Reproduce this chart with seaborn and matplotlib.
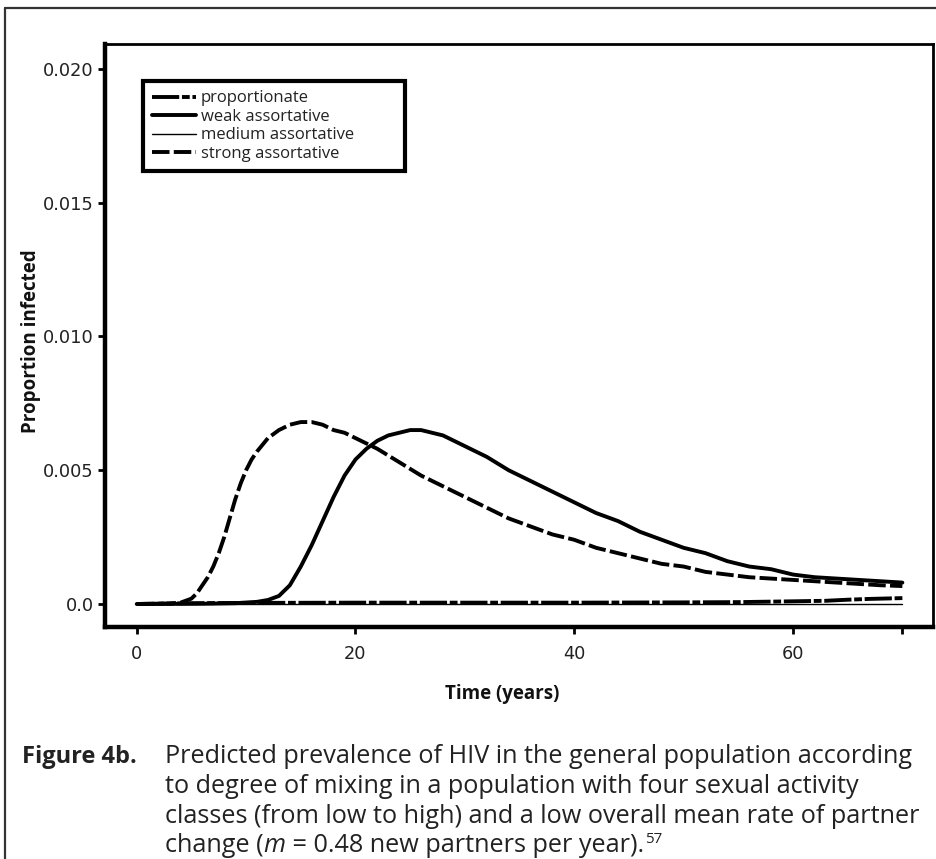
import matplotlib
matplotlib.use("Agg")
import matplotlib.pyplot as plt
from matplotlib.lines import Line2D
import pandas as pd
import seaborn as sns

# Predicted HIV prevalence (proportion infected) over time, by mixing pattern
years_strong = [0, 3, 4, 5, 5.5, 6, 6.5, 7, 7.5, 8, 8.5, 9, 9.5, 10, 10.5, 11, 12, 13,
                14, 15, 16, 17, 18, 19, 20, 22, 24, 26, 28, 30, 32, 34, 36, 38, 40,
                42, 44, 46, 48, 50, 52, 54, 56, 58, 60, 62, 64, 66, 68, 70]
prev_strong = [0.0, 0.00002, 0.00005, 0.0002, 0.0004, 0.0007, 0.0010, 0.0014, 0.0019,
               0.0025, 0.0032, 0.0039, 0.0045, 0.0050, 0.0054, 0.0057, 0.0062, 0.0065,
               0.0067, 0.0068, 0.0068, 0.0067, 0.0065, 0.0064, 0.0062, 0.0058, 0.0053,
               0.0048, 0.0044, 0.0040, 0.0036, 0.0032, 0.0029, 0.0026, 0.0024, 0.0021,
               0.0019, 0.0017, 0.0015, 0.0014, 0.0012, 0.0011, 0.0010, 0.00095, 0.00090,
               0.00085, 0.00080, 0.00075, 0.00070, 0.00067]

years_weak = [0, 6, 9, 11, 12, 13, 14, 15, 16, 17, 18, 19, 20, 21, 22, 23, 24, 25, 26,
              27, 28, 30, 32, 34, 36, 38, 40, 42, 44, 46, 48, 50, 52, 54, 56, 58, 60,
              62, 64, 66, 68, 70]
prev_weak = [0.0, 0.00001, 0.00003, 0.00008, 0.00015, 0.0003, 0.0007, 0.0014, 0.0022,
             0.0031, 0.0040, 0.0048, 0.0054, 0.0058, 0.0061, 0.0063, 0.0064, 0.0065,
             0.0065, 0.0064, 0.0063, 0.0059, 0.0055, 0.0050, 0.0046, 0.0042, 0.0038,
             0.0034, 0.0031, 0.0027, 0.0024, 0.0021, 0.0019, 0.0016, 0.0014, 0.0013,
             0.0011, 0.0010, 0.00095, 0.00090, 0.00085, 0.00080]

years_prop = [0, 5, 10, 20, 30, 40, 50, 55, 60, 63, 65, 67, 70]
prev_prop = [0.0, 0.00003, 0.00004, 0.00005, 0.00005, 0.00005, 0.00006, 0.00007,
             0.00010, 0.00012, 0.00016, 0.00019, 0.00022]

years_medium = [0, 10, 20, 30, 40, 50, 60, 70]
prev_medium = [0.0, 0.0, 0.0, 0.0, 0.0, 0.0, 0.0, 0.0]

series_names = ["proportionate", "weak assortative", "medium assortative",
                "strong assortative"]
y_ticks = [0.0, 0.005, 0.010, 0.015, 0.020]
y_ticklabels = ["0.0", "0.005", "0.010", "0.015", "0.020"]
x_ticks = [0, 20, 40, 60, 70]
x_ticklabels = ["0", "20", "40", "60", ""]

caption_head = "Figure 4b."
caption_lines = [
    "Predicted prevalence of HIV in the general population according",
    "to degree of mixing in a population with four sexual activity",
    "classes (from low to high) and a low overall mean rate of partner",
]
# last caption line: (text, style) pieces — italic symbol and reference superscript
caption_last = [("change (", "normal"), ("m", "italic"),
                (" = 0.48 new partners per year).", "normal"), ("57", "super")]

sns.set_theme(style="white")
plt.rcParams["font.family"] = ["Open Sans", "DejaVu Sans"]

frames = []
for name, yrs, vals in [
    (series_names[0], years_prop, prev_prop),
    (series_names[1], years_weak, prev_weak),
    (series_names[2], years_medium, prev_medium),
    (series_names[3], years_strong, prev_strong),
]:
    frames.append(pd.DataFrame({"Time": yrs, "Prevalence": vals, "Mixing": name}))
df = pd.concat(frames, ignore_index=True)

styles = {
    series_names[0]: dict(lw=2.8, ls=(0, (7, 0.7, 2, 0.7))),
    series_names[1]: dict(lw=2.8, ls="-"),
    series_names[2]: dict(lw=1.0, ls="-"),
    series_names[3]: dict(lw=2.8, ls=(0, (4.5, 1.1))),
}

fig = plt.figure(figsize=(9.37, 8.59), dpi=100)
ax = fig.add_axes([105 / 937, 1 - 627 / 859, 828 / 937, 583 / 859])

for name in series_names:
    sub = df[df["Mixing"] == name]
    sns.lineplot(data=sub, x="Time", y="Prevalence", ax=ax, color="black",
                 linewidth=styles[name]["lw"], linestyle=styles[name]["ls"],
                 label=name, estimator=None, sort=False)

ax.set_xlim(-2.9, 72.8)
ax.set_ylim(-0.00086, 0.02093)
ax.set_xticks(x_ticks)
ax.set_xticklabels(x_ticklabels)
ax.set_yticks(y_ticks)
ax.set_yticklabels(y_ticklabels)
ax.tick_params(axis="both", which="major", left=True, bottom=True, direction="out",
               length=5, width=2, color="black", labelcolor="#222222")
ax.tick_params(axis="y", pad=3)
ax.tick_params(axis="x", pad=8)
for lab in ax.get_xticklabels() + ax.get_yticklabels():
    lab.set_fontfamily(["DejaVu Sans"])
    lab.set_fontsize(12.8)

for side, w in [("left", 3.2), ("bottom", 3.2), ("top", 2.0), ("right", 2.0)]:
    ax.spines[side].set_visible(True)
    ax.spines[side].set_color("black")
    ax.spines[side].set_linewidth(w)

ax.set_xlabel("Time (years)", fontweight="bold", fontsize=13.5, color="#111111")
ax.xaxis.set_label_coords(0.4795, -0.097)
ax.set_ylabel("Proportion infected", fontweight="bold", fontsize=13.5,
              color="#111111")
ax.yaxis.set_label_coords(-0.077, 0.49)

leg = ax.legend(loc="upper left", bbox_to_anchor=(0.046, 0.0, 0.316, 0.9365),
                mode="expand", frameon=True, fancybox=False, framealpha=1,
                edgecolor="black", fontsize=12, handlelength=2.6,
                handletextpad=0.3, labelspacing=0.15, borderpad=0.56,
                borderaxespad=0)
leg.get_frame().set_linewidth(3)
for t in leg.get_texts():
    t.set_color("#222222")

# outer figure border (top and left edges)
fig.add_artist(Line2D([5 / 937, 1.0], [1 - 8 / 859, 1 - 8 / 859],
                      transform=fig.transFigure, color="#333333", lw=1.6))
fig.add_artist(Line2D([5 / 937, 5 / 937], [0.0, 1 - 8 / 859],
                      transform=fig.transFigure, color="#333333", lw=1.6))

# caption below the chart
W, H = 937, 859
baselines = [763, 793, 823, 852]
cap_size = 18.2
fig.text(22 / W, 1 - baselines[0] / H, caption_head, fontsize=17, fontweight="bold",
         color="#222222", va="baseline", ha="left")
for i, line in enumerate(caption_lines):
    fig.text(165 / W, 1 - baselines[i] / H, line, fontsize=cap_size,
             color="#222222", va="baseline", ha="left")

renderer = fig.canvas.get_renderer()
x_px = 165.0
for piece, kind in caption_last:
    y_px = baselines[3]
    size = cap_size
    style = "normal"
    if kind == "italic":
        style = "italic"
    elif kind == "super":
        size = cap_size * 0.6
        y_px -= 9
        x_px += 1
    t = fig.text(x_px / W, 1 - y_px / H, piece, fontsize=size, fontstyle=style,
                 color="#222222", va="baseline", ha="left")
    bb = t.get_window_extent(renderer)
    x_px = bb.x1

fig.savefig("out.png", dpi=100)
